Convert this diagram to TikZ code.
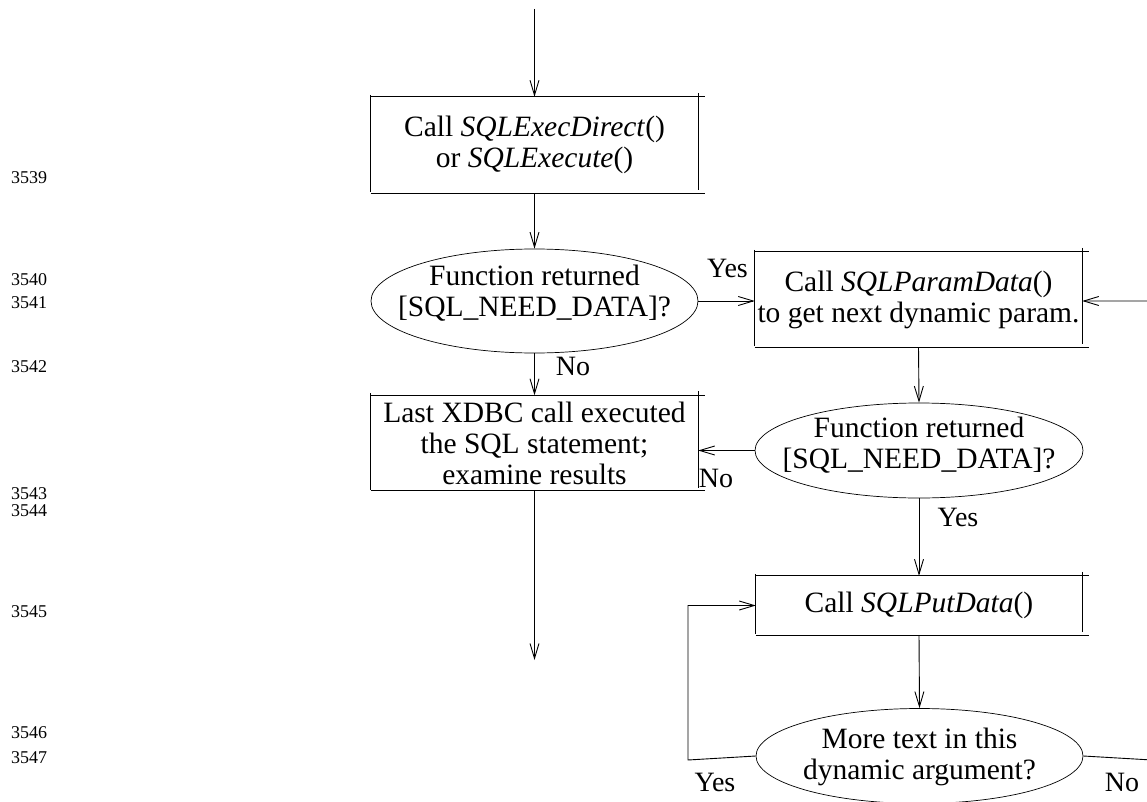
\documentclass[tikz,border=0pt]{standalone}
\usepackage{fontspec}
\setmainfont{Liberation Serif}
\usetikzlibrary{arrows.meta,shapes.geometric}

\tikzset{
  x=1pt, y=-1pt,
  flow/.style={line width=0.9pt,
    -{Straight Barb[length=15pt,width=9pt,line width=0.9pt]}},
  boxline/.style={line width=0.9pt},
  procbox/.style={inner sep=0pt, align=center,
    font=\fontsize{29.5}{31}\selectfont},
  decision/.style={ellipse, draw, line width=0.7pt, inner sep=0pt},
  dtext/.style={inner sep=0pt, align=center,
    font=\fontsize{29.5}{31}\selectfont},
  lbl/.style={inner sep=0pt, anchor=base, font=\fontsize{28}{31}\selectfont},
  lineno/.style={inner sep=0pt, anchor=west, font=\fontsize{18}{18}\selectfont},
}

% process box with slightly overshooting edges
\newcommand{\qbox}[1]{%
  \draw[boxline] (#1.north west) -- ([xshift=7pt]#1.north east);
  \draw[boxline] (#1.south west) -- ([xshift=7pt]#1.south east);
  \draw[boxline] ([yshift=2pt]#1.north west) -- ([yshift=1pt]#1.south west);
  \draw[boxline] ([yshift=4pt]#1.north east) -- ([yshift=3pt]#1.south east);
}

\begin{document}
\begin{tikzpicture}
\useasboundingbox (0,0) rectangle (1147,802);

% line numbers
\node[lineno] (n3539) at (11,178) {3539};
\node[lineno] (n3540) at (11,280) {3540};
\node[lineno] (n3541) at (11,303) {3541};
\node[lineno] (n3542) at (11,367) {3542};
\node[lineno] (n3543) at (11,494) {3543};
\node[lineno] (n3544) at (11,511) {3544};
\node[lineno] (n3545) at (11,612) {3545};
\node[lineno] (n3546) at (11,733) {3546};
\node[lineno] (n3547) at (11,758) {3547};

% process boxes
\node[procbox, minimum width=327pt, minimum height=96pt] (b1) at (534.5,145)
  {Call \textit{SQLExecDirect}()\\or \textit{SQLExecute}()};
\node[procbox, minimum width=327pt, minimum height=95pt] (b2) at (918.5,299.5)
  {Call \textit{SQLParamData}()\\to get next dynamic param.};
\node[procbox, minimum width=327pt, minimum height=95pt] (b3) at (534.5,443)
  {Last XDBC call executed\\the SQL statement;\\examine results};
\node[procbox, minimum width=326pt, minimum height=59pt] (b4) at (919,605.5)
  {Call \textit{SQLPutData}()};
\qbox{b1}
\qbox{b2}
\qbox{b3}
\qbox{b4}

% decisions
\node[decision, minimum width=327pt, minimum height=104pt] (e1) at (534.5,301) {};
\node[dtext] (e1t) at (534.5,293) {Function returned\\{}[SQL\_NEED\_DATA]?};
\node[decision, minimum width=328pt, minimum height=95pt] (e2) at (919,450.5) {};
\node[dtext] (e2t) at (919,445) {Function returned\\{}[SQL\_NEED\_DATA]?};
\node[decision, minimum width=327pt, minimum height=95pt] (e3) at (919.5,756) {};
\node[dtext] (e3t) at (919.5,757) {More text in this\\dynamic argument?};

% connectors
\coordinate (start) at (534.5,9);
\coordinate (exit) at (534.5,660);
\coordinate (loopL) at (688,760);
\coordinate (loopR) at (1152,760);

\draw[flow] (start) -- (b1.north);
\draw[flow] (b1.south) -- (e1.north);
\draw[flow] (e1.east) -- (e1.east -| b2.west);
\draw[flow] (e1.south) -- (b3.north);
\draw[flow] (b2.south) -- (e2.north);
\draw[flow] (e2.west) -- (e2.west -| b3.east);
\draw[flow] (e2.south) -- (b4.north);
\draw[flow] (b3.south) -- (exit);
\draw[flow] (b4.south) -- (e3.north);
\draw[flow] (e3.west) -- (loopL) |- (b4.west);
\draw[flow] (e3.east) -- (loopR) |- ([yshift=-1.5pt]b2.east);

% branch labels
\node[lbl] (yes1) at (727.5,277) {Yes};
\node[lbl] (no1) at (573,375.5) {No};
\node[lbl] (no2) at (716,487.5) {No};
\node[lbl] (yes2) at (958,526.5) {Yes};
\node[lbl] (yes3) at (715,791) {Yes};
\node[lbl] (no3) at (1122,791) {No};
\end{tikzpicture}
\end{document}
